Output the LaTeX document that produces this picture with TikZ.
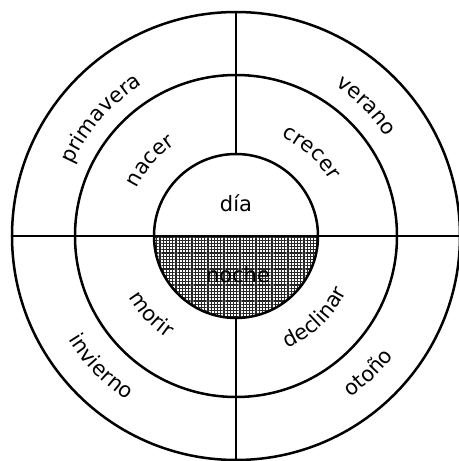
\documentclass[tikz,border=0pt]{standalone}
\usepackage{fontspec}
\setmainfont{DejaVu Sans}
\usetikzlibrary{decorations.text, patterns.meta}

% fine grid used for the night half
\tikzdeclarepattern{
  name=nightgrid,
  type=uncolored,
  bounding box={(-0.8pt,-0.8pt) and (0.8pt,0.8pt)},
  tile size={(1.6pt,1.6pt)},
  code={\draw[line width=0.6pt] (-0.8pt,0) -- (0.8pt,0) (0,-0.8pt) -- (0,0.8pt);}
}

\begin{document}
\fontsize{10.5}{12.6}\selectfont
\begin{tikzpicture}[x=0.5pt, y=0.5pt, line width=1.25pt,
    ringtext/.style={decorate, decoration={text along path, text align=center, text/.expanded=#1}}]
    \useasboundingbox (-236,-225) rectangle (223,236);
    \def\rOut{224}
    \def\rMid{161}
    \def\rIn{82}
    % Night half of the inner circle
    \fill[pattern=nightgrid, pattern color=black!85] (-\rIn,0) arc[start angle=180, end angle=360, radius=\rIn] -- cycle;
    % Circles
    \foreach \r in {\rOut,\rMid,\rIn} {\draw (0,0) circle[radius=\r];}
    % Cross
    \draw (-\rOut,0) -- (\rOut,0);
    \draw (0,\rIn) -- (0,\rOut);
    \draw (0,-\rIn) -- (0,-\rOut);
    % Ring labels, upper half (read clockwise)
    \foreach \a/\r/\t in {139/178/primavera, 45/180/verano, 139/110/nacer, 48/109/crecer}
      {\path[ringtext=\t] (\a+40:\r) arc[start angle=\a+40, end angle=\a-40, radius=\r];}
    % Ring labels, lower half (read counter-clockwise)
    \foreach \a/\r/\t in {224/197/invierno, 314/198/otoño, 223/123/morir, 314/124/declinar}
      {\path[ringtext=\t] (\a-40:\r) arc[start angle=\a-40, end angle=\a+40, radius=\r];}
    % Centre
    \node (dia) at (0,33) {día};
    \node (noche) at (2,-39) {noche};
\end{tikzpicture}
\end{document}
